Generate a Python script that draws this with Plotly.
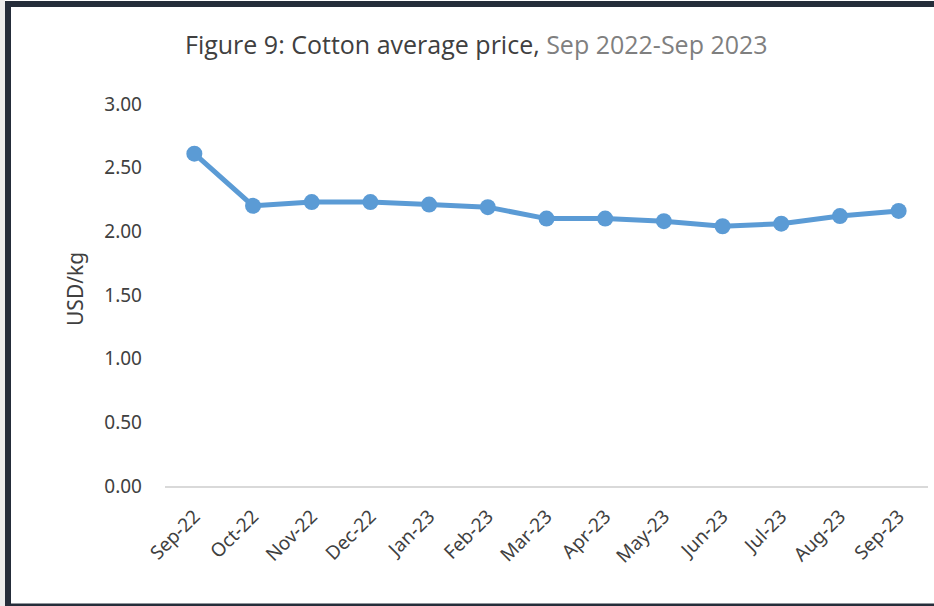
import plotly.graph_objects as go

months = ["Sep-22", "Oct-22", "Nov-22", "Dec-22", "Jan-23", "Feb-23", "Mar-23",
          "Apr-23", "May-23", "Jun-23", "Jul-23", "Aug-23", "Sep-23"]
price = [2.61, 2.20, 2.23, 2.23, 2.21, 2.19, 2.10, 2.10, 2.08, 2.04, 2.06, 2.12, 2.16]
y_ticks = [0, 0.5, 1.0, 1.5, 2.0, 2.5, 3.0]

W, H = 934, 606
L, R, T, B = 165, 6, 104, 120
PW, PH = W - L - R, H - T - B

def px(x):
    return (x - L) / PW

def py(y):
    return (H - B - y) / PH

fig = go.Figure()
fig.add_trace(go.Scatter(
    x=months, y=price, mode="lines+markers",
    line=dict(color="#5B9BD5", width=5),
    marker=dict(color="#5B9BD5", size=16),
    showlegend=False,
))

fig.update_layout(
    width=W, height=H,
    margin=dict(l=L, r=R, t=T, b=B, pad=0),
    paper_bgcolor="white", plot_bgcolor="white",
    font=dict(family="Noto Sans", color="#404040"),
    xaxis=dict(
        type="category", range=[-0.5, 12.5],
        showgrid=False, zeroline=False,
        showline=True, linecolor="#d9d9d9", linewidth=1.5,
        tickangle=-45, ticks="", tickfont=dict(size=19, color="#404040"),
        ticklabelstandoff=10,
    ),
    yaxis=dict(
        range=[0, 3], tickvals=y_ticks, ticktext=[f"{v:.2f}" for v in y_ticks],
        showgrid=False, zeroline=False, showline=False, ticks="",
        tickfont=dict(size=19, color="#404040"),
        ticklabelstandoff=22,
    ),
    shapes=[
        dict(type="rect", xref="paper", yref="paper",
             x0=px(-5), x1=px(5), y0=py(-5), y1=py(620),
             fillcolor="#ececec", line=dict(width=0), layer="above"),
        dict(type="rect", xref="paper", yref="paper",
             x0=px(8), x1=px(980), y0=py(4), y1=py(606.5),
             fillcolor="rgba(0,0,0,0)", line=dict(color="#252d3a", width=6), layer="above"),
    ],
    annotations=[
        dict(xref="paper", yref="paper", x=px(476), y=py(44), xanchor="center", yanchor="middle",
             showarrow=False,
             text="<span style='color:#404040'>Figure 9: Cotton average price, </span>"
                  "<span style='color:#7f7f7f'>Sep 2022-Sep 2023</span>",
             font=dict(family="Open Sans", size=25)),
        dict(xref="paper", yref="paper", x=px(75), y=py(289), xanchor="center", yanchor="middle",
             showarrow=False, textangle=-90, text="USD/kg",
             font=dict(family="Noto Sans", size=21, color="#404040")),
    ],
)

fig.write_html("out.html")
